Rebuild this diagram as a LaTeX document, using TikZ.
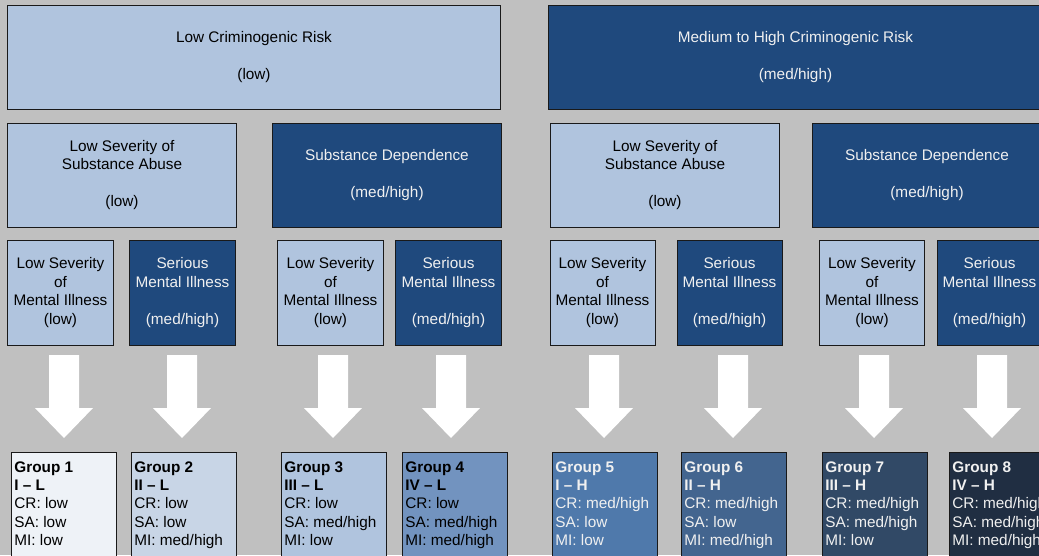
\documentclass[tikz,border=0pt]{standalone}
\usepackage{fontspec}
\setmainfont{Liberation Sans}
\usepackage{xcolor}
\definecolor{bggray}{RGB}{192,192,192}
\definecolor{lowblue}{RGB}{176,196,222}
\definecolor{highblue}{RGB}{31,73,125}
\definecolor{grpone}{RGB}{238,242,247}
\definecolor{grptwo}{RGB}{200,213,230}
\definecolor{grpthree}{RGB}{176,196,222}
\definecolor{grpfour}{RGB}{114,147,191}
\definecolor{grpfive}{RGB}{79,121,171}
\definecolor{grpsix}{RGB}{67,101,143}
\definecolor{grpseven}{RGB}{49,73,102}
\definecolor{grpeight}{RGB}{32,46,66}
\newcommand{\boxfont}{\fontsize{10.9}{13.1}\selectfont}
\newcommand{\grptext}[5]{\parbox[t][2.9cm][t]{2.48cm}{\raggedright\textbf{Group #1}\\\textbf{#2}\\CR: #3\\SA: #4\\MI: #5}}
\tikzset{
  lowbox/.style={draw=black!90, line width=0.7pt, fill=lowblue, text=black, align=center, font=\boxfont, inner sep=0pt},
  highbox/.style={lowbox, fill=highblue, text=white!94!black},
  grpbox/.style={draw=black!90, line width=0.7pt, anchor=north west, font=\boxfont, inner xsep=0.07cm, inner ysep=0.22cm, minimum width=2.625cm},
  blockarrow/.style={fill=white}
}

\begin{document}
\begin{tikzpicture}[x=0.025cm, y=-0.025cm]
  \useasboundingbox (0,0) rectangle (1039,555);
  \clip (0,0) rectangle (1039,555);
  \fill[bggray] (0,0) rectangle (1039,555);

  % Criminogenic risk
  \node[lowbox, minimum width=12.3cm, minimum height=2.6cm] (crlow) at (254,57) {Low Criminogenic Risk\\[13.1pt](low)};
  \node[highbox, minimum width=12.325cm, minimum height=2.6cm] (crhigh) at (795.5,57) {Medium to High Criminogenic Risk\\[13.1pt](med/high)};

  % Substance abuse
  \node[lowbox, minimum width=5.7cm, minimum height=2.6cm] (sa1) at (122,175) {Low Severity of\\Substance Abuse\\[13.1pt](low)};
  \node[highbox, minimum width=5.7cm, minimum height=2.6cm] (sa2) at (387,175) {Substance Dependence\\[13.1pt](med/high)};
  \node[lowbox, minimum width=5.7cm, minimum height=2.6cm] (sa3) at (665,175) {Low Severity of\\Substance Abuse\\[13.1pt](low)};
  \node[highbox, minimum width=5.7cm, minimum height=2.6cm] (sa4) at (927,175) {Substance Dependence\\[13.1pt](med/high)};

  % Mental illness
  \node[lowbox, minimum width=2.625cm, minimum height=2.625cm] (mi1) at (60.5,292.5) {Low Severity\\of\\Mental Illness\\(low)};
  \node[highbox, minimum width=2.625cm, minimum height=2.625cm] (mi2) at (182.5,292.5) {Serious\\Mental Illness\\[13.1pt](med/high)};
  \node[lowbox, minimum width=2.625cm, minimum height=2.625cm] (mi3) at (330.5,292.5) {Low Severity\\of\\Mental Illness\\(low)};
  \node[highbox, minimum width=2.625cm, minimum height=2.625cm] (mi4) at (448.5,292.5) {Serious\\Mental Illness\\[13.1pt](med/high)};
  \node[lowbox, minimum width=2.625cm, minimum height=2.625cm] (mi5) at (602.5,292.5) {Low Severity\\of\\Mental Illness\\(low)};
  \node[highbox, minimum width=2.625cm, minimum height=2.625cm] (mi6) at (729.5,292.5) {Serious\\Mental Illness\\[13.1pt](med/high)};
  \node[lowbox, minimum width=2.625cm, minimum height=2.625cm] (mi7) at (872,292.5) {Low Severity\\of\\Mental Illness\\(low)};
  \node[highbox, minimum width=2.625cm, minimum height=2.625cm] (mi8) at (989.5,292.5) {Serious\\Mental Illness\\[13.1pt](med/high)};

  % Block arrows
  \foreach \x in {64,182,333,451,604,733,874,992}
    \fill[blockarrow] (\x-15,355) -- (\x+15,355) -- (\x+15,408) -- (\x+29,408) -- (\x,438) -- (\x-29,408) -- (\x-15,408) -- cycle;

  % Groups
  \node[grpbox, fill=grpone] (g1) at (11,452) {\grptext{1}{I -- L}{low}{low}{low}};
  \node[grpbox, fill=grptwo] (g2) at (131,452) {\grptext{2}{II -- L}{low}{low}{med/high}};
  \node[grpbox, fill=grpthree] (g3) at (281,452) {\grptext{3}{III -- L}{low}{med/high}{low}};
  \node[grpbox, fill=grpfour] (g4) at (402,452) {\grptext{4}{IV -- L}{low}{med/high}{med/high}};
  \node[grpbox, fill=grpfive, text=white!94!black] (g5) at (552,452) {\grptext{5}{I -- H}{med/high}{low}{low}};
  \node[grpbox, fill=grpsix, text=white!94!black] (g6) at (681,452) {\grptext{6}{II -- H}{med/high}{low}{med/high}};
  \node[grpbox, fill=grpseven, text=white!94!black] (g7) at (822,452) {\grptext{7}{III -- H}{med/high}{med/high}{low}};
  \node[grpbox, fill=grpeight, text=white!94!black] (g8) at (949,452) {\grptext{8}{IV -- H}{med/high}{med/high}{med/high}};
\end{tikzpicture}
\end{document}
